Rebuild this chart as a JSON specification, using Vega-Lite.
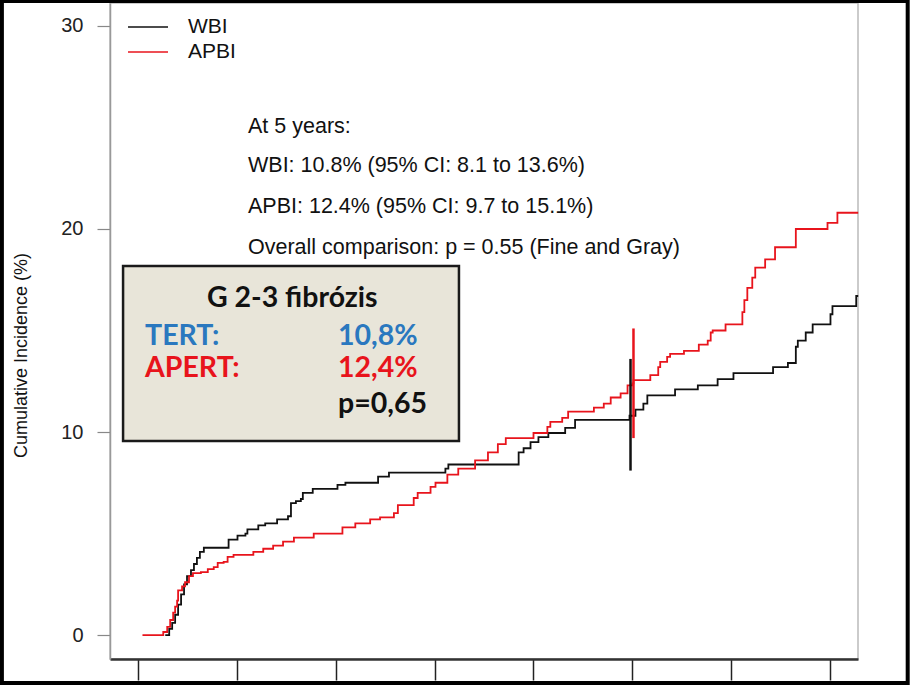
{
  "$schema": "https://vega.github.io/schema/vega-lite/v6.json",
  "autosize": {"type": "none"},
  "width": 748,
  "height": 656,
  "padding": {"left": 110, "top": 3, "right": 53, "bottom": 26},
  "background": "white",
  "config": {
    "view": {"stroke": "#bbbbbb", "strokeWidth": 1.5},
    "font": "Liberation Sans"
  },
  "datasets": {
    "curves": [
      {"arm": "WBI", "t": 0.28, "ci": 0},
      {"arm": "WBI", "t": 0.32, "ci": 0.3},
      {"arm": "WBI", "t": 0.35, "ci": 0.6},
      {"arm": "WBI", "t": 0.38, "ci": 1.0},
      {"arm": "WBI", "t": 0.41, "ci": 1.5},
      {"arm": "WBI", "t": 0.44, "ci": 2.0},
      {"arm": "WBI", "t": 0.47, "ci": 2.5},
      {"arm": "WBI", "t": 0.50, "ci": 2.9},
      {"arm": "WBI", "t": 0.54, "ci": 3.2},
      {"arm": "WBI", "t": 0.57, "ci": 3.5},
      {"arm": "WBI", "t": 0.60, "ci": 3.8},
      {"arm": "WBI", "t": 0.63, "ci": 4.1},
      {"arm": "WBI", "t": 0.67, "ci": 4.3},
      {"arm": "WBI", "t": 0.92, "ci": 4.7},
      {"arm": "WBI", "t": 1.01, "ci": 4.9},
      {"arm": "WBI", "t": 1.09, "ci": 5.0},
      {"arm": "WBI", "t": 1.11, "ci": 5.2},
      {"arm": "WBI", "t": 1.22, "ci": 5.4},
      {"arm": "WBI", "t": 1.29, "ci": 5.5},
      {"arm": "WBI", "t": 1.41, "ci": 5.7},
      {"arm": "WBI", "t": 1.52, "ci": 5.85},
      {"arm": "WBI", "t": 1.55, "ci": 6.5},
      {"arm": "WBI", "t": 1.60, "ci": 6.6},
      {"arm": "WBI", "t": 1.65, "ci": 6.7},
      {"arm": "WBI", "t": 1.67, "ci": 7.0},
      {"arm": "WBI", "t": 1.77, "ci": 7.2},
      {"arm": "WBI", "t": 2.02, "ci": 7.4},
      {"arm": "WBI", "t": 2.10, "ci": 7.5},
      {"arm": "WBI", "t": 2.43, "ci": 7.8},
      {"arm": "WBI", "t": 2.54, "ci": 8.0},
      {"arm": "WBI", "t": 3.11, "ci": 8.2},
      {"arm": "WBI", "t": 3.14, "ci": 8.4},
      {"arm": "WBI", "t": 3.85, "ci": 9.0},
      {"arm": "WBI", "t": 3.90, "ci": 9.2},
      {"arm": "WBI", "t": 3.97, "ci": 9.5},
      {"arm": "WBI", "t": 4.05, "ci": 9.75},
      {"arm": "WBI", "t": 4.15, "ci": 9.95},
      {"arm": "WBI", "t": 4.32, "ci": 10.2},
      {"arm": "WBI", "t": 4.42, "ci": 10.6},
      {"arm": "WBI", "t": 4.97, "ci": 10.8},
      {"arm": "WBI", "t": 5.03, "ci": 11.1},
      {"arm": "WBI", "t": 5.11, "ci": 11.4},
      {"arm": "WBI", "t": 5.15, "ci": 11.8},
      {"arm": "WBI", "t": 5.43, "ci": 12.1},
      {"arm": "WBI", "t": 5.66, "ci": 12.3},
      {"arm": "WBI", "t": 5.86, "ci": 12.6},
      {"arm": "WBI", "t": 6.02, "ci": 12.9},
      {"arm": "WBI", "t": 6.42, "ci": 13.2},
      {"arm": "WBI", "t": 6.57, "ci": 13.4},
      {"arm": "WBI", "t": 6.65, "ci": 14.2},
      {"arm": "WBI", "t": 6.67, "ci": 14.5},
      {"arm": "WBI", "t": 6.75, "ci": 14.9},
      {"arm": "WBI", "t": 6.82, "ci": 15.3},
      {"arm": "WBI", "t": 7.00, "ci": 15.8},
      {"arm": "WBI", "t": 7.02, "ci": 16.2},
      {"arm": "WBI", "t": 7.26, "ci": 16.7},
      {"arm": "WBI", "t": 7.28, "ci": 16.7},
      {"arm": "APBI", "t": 0.05, "ci": 0},
      {"arm": "APBI", "t": 0.26, "ci": 0.15},
      {"arm": "APBI", "t": 0.30, "ci": 0.4},
      {"arm": "APBI", "t": 0.33, "ci": 0.74},
      {"arm": "APBI", "t": 0.36, "ci": 1.1},
      {"arm": "APBI", "t": 0.38, "ci": 1.4},
      {"arm": "APBI", "t": 0.40, "ci": 1.7},
      {"arm": "APBI", "t": 0.41, "ci": 2.2},
      {"arm": "APBI", "t": 0.45, "ci": 2.4},
      {"arm": "APBI", "t": 0.48, "ci": 2.6},
      {"arm": "APBI", "t": 0.52, "ci": 2.9},
      {"arm": "APBI", "t": 0.56, "ci": 3.05},
      {"arm": "APBI", "t": 0.64, "ci": 3.1},
      {"arm": "APBI", "t": 0.71, "ci": 3.25},
      {"arm": "APBI", "t": 0.77, "ci": 3.35},
      {"arm": "APBI", "t": 0.81, "ci": 3.55},
      {"arm": "APBI", "t": 0.87, "ci": 3.6},
      {"arm": "APBI", "t": 0.91, "ci": 3.85},
      {"arm": "APBI", "t": 0.97, "ci": 3.95},
      {"arm": "APBI", "t": 1.17, "ci": 4.1},
      {"arm": "APBI", "t": 1.27, "ci": 4.25},
      {"arm": "APBI", "t": 1.37, "ci": 4.4},
      {"arm": "APBI", "t": 1.47, "ci": 4.6},
      {"arm": "APBI", "t": 1.58, "ci": 4.8},
      {"arm": "APBI", "t": 1.78, "ci": 5.0},
      {"arm": "APBI", "t": 2.07, "ci": 5.3},
      {"arm": "APBI", "t": 2.20, "ci": 5.5},
      {"arm": "APBI", "t": 2.35, "ci": 5.7},
      {"arm": "APBI", "t": 2.45, "ci": 5.8},
      {"arm": "APBI", "t": 2.59, "ci": 6.0},
      {"arm": "APBI", "t": 2.63, "ci": 6.4},
      {"arm": "APBI", "t": 2.79, "ci": 6.75},
      {"arm": "APBI", "t": 2.83, "ci": 7.0},
      {"arm": "APBI", "t": 2.96, "ci": 7.3},
      {"arm": "APBI", "t": 3.01, "ci": 7.5},
      {"arm": "APBI", "t": 3.13, "ci": 7.9},
      {"arm": "APBI", "t": 3.24, "ci": 8.2},
      {"arm": "APBI", "t": 3.41, "ci": 8.6},
      {"arm": "APBI", "t": 3.54, "ci": 9.0},
      {"arm": "APBI", "t": 3.64, "ci": 9.4},
      {"arm": "APBI", "t": 3.72, "ci": 9.7},
      {"arm": "APBI", "t": 4.00, "ci": 9.95},
      {"arm": "APBI", "t": 4.14, "ci": 10.25},
      {"arm": "APBI", "t": 4.17, "ci": 10.5},
      {"arm": "APBI", "t": 4.29, "ci": 10.7},
      {"arm": "APBI", "t": 4.35, "ci": 11.0},
      {"arm": "APBI", "t": 4.61, "ci": 11.2},
      {"arm": "APBI", "t": 4.71, "ci": 11.4},
      {"arm": "APBI", "t": 4.78, "ci": 11.7},
      {"arm": "APBI", "t": 4.88, "ci": 11.9},
      {"arm": "APBI", "t": 4.95, "ci": 12.3},
      {"arm": "APBI", "t": 5.00, "ci": 12.4},
      {"arm": "APBI", "t": 5.01, "ci": 12.56},
      {"arm": "APBI", "t": 5.18, "ci": 12.8},
      {"arm": "APBI", "t": 5.26, "ci": 13.2},
      {"arm": "APBI", "t": 5.28, "ci": 13.45},
      {"arm": "APBI", "t": 5.35, "ci": 13.7},
      {"arm": "APBI", "t": 5.38, "ci": 13.85},
      {"arm": "APBI", "t": 5.52, "ci": 14.0},
      {"arm": "APBI", "t": 5.67, "ci": 14.3},
      {"arm": "APBI", "t": 5.76, "ci": 14.5},
      {"arm": "APBI", "t": 5.79, "ci": 14.9},
      {"arm": "APBI", "t": 5.81, "ci": 15.0},
      {"arm": "APBI", "t": 5.94, "ci": 15.3},
      {"arm": "APBI", "t": 6.11, "ci": 15.9},
      {"arm": "APBI", "t": 6.13, "ci": 16.5},
      {"arm": "APBI", "t": 6.16, "ci": 17.1},
      {"arm": "APBI", "t": 6.21, "ci": 17.6},
      {"arm": "APBI", "t": 6.24, "ci": 18.1},
      {"arm": "APBI", "t": 6.34, "ci": 18.5},
      {"arm": "APBI", "t": 6.44, "ci": 19.1},
      {"arm": "APBI", "t": 6.65, "ci": 20.0},
      {"arm": "APBI", "t": 6.97, "ci": 20.3},
      {"arm": "APBI", "t": 7.07, "ci": 20.8},
      {"arm": "APBI", "t": 7.28, "ci": 20.8}
    ],
    "cis": [
      {"arm": "WBI", "t": 4.98, "lo": 8.1, "hi": 13.6},
      {"arm": "APBI", "t": 5.01, "lo": 9.7, "hi": 15.1}
    ]
  },
  "layer": [
    {
      "data": {"values": [{"x0": -1.37, "x1": 7.78, "y0": -2.36, "y1": 31.23}]},
      "mark": {"type": "rect", "fill": null, "stroke": "#000000", "strokeWidth": 4, "clip": false},
      "encoding": {
        "x": {"field": "x0", "type": "quantitative", "scale": {"domain": [-0.278, 7.278], "nice": false, "zero": false}},
        "x2": {"field": "x1"},
        "y": {"field": "y0", "type": "quantitative", "scale": {"domain": [-1.18, 31.13], "nice": false, "zero": false}},
        "y2": {"field": "y1"}
      }
    },
    {
      "data": {"name": "curves"},
      "mark": {"type": "line", "interpolate": "step-after", "strokeWidth": 1.8},
      "encoding": {
        "x": {
          "field": "t", "type": "quantitative",
          "scale": {"domain": [-0.278, 7.278], "nice": false, "zero": false},
          "axis": {"values": [0, 1, 2, 3, 4, 5, 6, 7], "labels": false, "title": null, "grid": false,
            "tickSize": 21, "tickColor": "#222222", "tickWidth": 1.5, "domainColor": "#333333", "domainWidth": 2.5}
        },
        "y": {
          "field": "ci", "type": "quantitative",
          "scale": {"domain": [-1.18, 31.13], "nice": false, "zero": false},
          "axis": {"values": [0, 10, 20, 30], "grid": false, "title": "Cumulative Incidence (%)",
            "titleFontSize": 18, "titleFontWeight": "normal", "titleColor": "#111111", "titlePadding": 30,
            "titleY": 352,
            "labelFontSize": 20, "labelColor": "#222222", "labelPadding": 14,
            "tickSize": 13, "tickColor": "#888888", "tickWidth": 1.2, "domainColor": "#999999", "domainWidth": 1.5}
        },
        "color": {
          "field": "arm", "type": "nominal",
          "scale": {"domain": ["WBI", "APBI"], "range": ["#111111", "#e8141c"]},
          "legend": null
        },
        "order": {"field": "t", "type": "quantitative"}
      }
    },
    {
      "data": {"name": "cis"},
      "mark": {"type": "rule", "strokeWidth": 2.5},
      "encoding": {
        "x": {"field": "t", "type": "quantitative"},
        "y": {"field": "lo", "type": "quantitative"},
        "y2": {"field": "hi"},
        "color": {"field": "arm", "type": "nominal"}
      }
    },
    {
      "data": {"values": [{"arm": "WBI"}]},
      "layer": [
        {
          "mark": {"type": "rule", "strokeWidth": 1.5},
          "encoding": {
            "x": {"datum": -0.096, "type": "quantitative"},
            "x2": {"datum": 0.308},
            "y": {"datum": 29.95, "type": "quantitative"},
            "color": {"field": "arm", "type": "nominal"}
          }
        },
        {
          "mark": {"type": "text", "align": "left", "baseline": "middle", "fontSize": 21, "color": "#111111"},
          "encoding": {
            "x": {"datum": 0.51, "type": "quantitative"},
            "y": {"datum": 29.95, "type": "quantitative"},
            "text": {"field": "arm"}
          }
        }
      ]
    },
    {
      "data": {"values": [{"arm": "APBI"}]},
      "layer": [
        {
          "mark": {"type": "rule", "strokeWidth": 1.5},
          "encoding": {
            "x": {"datum": -0.096, "type": "quantitative"},
            "x2": {"datum": 0.308},
            "y": {"datum": 28.72, "type": "quantitative"},
            "color": {"field": "arm", "type": "nominal"}
          }
        },
        {
          "mark": {"type": "text", "align": "left", "baseline": "middle", "fontSize": 21, "color": "#111111"},
          "encoding": {
            "x": {"datum": 0.51, "type": "quantitative"},
            "y": {"datum": 28.72, "type": "quantitative"},
            "text": {"field": "arm"}
          }
        }
      ]
    },
    {
      "data": {"values": [
        {"txt": "At 5 years:", "row": 25.02},
        {"txt": "WBI: 10.8% (95% CI: 8.1 to 13.6%)", "row": 23.1},
        {"txt": "APBI: 12.4% (95% CI: 9.7 to 15.1%)", "row": 21.08},
        {"txt": "Overall comparison: p = 0.55 (Fine and Gray)", "row": 19.06}
      ]},
      "mark": {"type": "text", "align": "left", "baseline": "middle", "fontSize": 21.5, "color": "#111111", "font": "Liberation Sans"},
      "encoding": {
        "x": {"datum": 1.116, "type": "quantitative"},
        "y": {"field": "row", "type": "quantitative"},
        "text": {"field": "txt"}
      }
    },
    {
      "data": {"values": [{"x0": -0.146, "x1": 3.247, "y0": 9.56, "y1": 18.18}]},
      "mark": {"type": "rect", "fill": "#e8e5d9", "stroke": "#1a1a1a", "strokeWidth": 2.5},
      "encoding": {
        "x": {"field": "x0", "type": "quantitative"},
        "x2": {"field": "x1"},
        "y": {"field": "y0", "type": "quantitative"},
        "y2": {"field": "y1"}
      }
    },
    {
      "data": {"values": [{"txt": "G 2-3 fibrózis"}]},
      "mark": {"type": "text", "align": "center", "baseline": "middle", "fontSize": 28.5, "fontWeight": "bold", "font": "Lato", "color": "#111111"},
      "encoding": {
        "x": {"datum": 1.563, "type": "quantitative"},
        "y": {"datum": 16.6, "type": "quantitative"},
        "text": {"field": "txt"}
      }
    },
    {
      "data": {"values": [
        {"lab": "TERT:", "val": "10,8%", "row": 14.73, "grp": "TERT"},
        {"lab": "APERT:", "val": "12,4%", "row": 13.15, "grp": "APERT"},
        {"lab": "", "val": "p=0,65", "row": 11.4, "grp": "p"}
      ]},
      "layer": [
        {
          "mark": {"type": "text", "align": "left", "baseline": "middle", "fontSize": 28.5, "fontWeight": "bold", "font": "Lato"},
          "encoding": {
            "x": {"datum": 0.076, "type": "quantitative"},
            "y": {"field": "row", "type": "quantitative"},
            "text": {"field": "lab"},
            "fill": {"field": "grp", "type": "nominal", "scale": {"domain": ["TERT", "APERT", "p"], "range": ["#2a78bf", "#e8141c", "#111111"]}, "legend": null}
          }
        },
        {
          "mark": {"type": "text", "align": "left", "baseline": "middle", "fontSize": 28.5, "fontWeight": "bold", "font": "Lato"},
          "encoding": {
            "x": {"datum": 2.025, "type": "quantitative"},
            "y": {"field": "row", "type": "quantitative"},
            "text": {"field": "val"},
            "fill": {"field": "grp", "type": "nominal", "legend": null}
          }
        }
      ]
    }
  ]
}
